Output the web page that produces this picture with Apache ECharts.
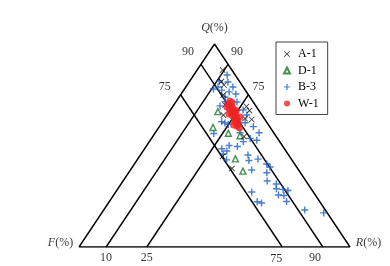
<!DOCTYPE html>
<html><head><meta charset="utf-8">
<script src="https://cdn.jsdelivr.net/npm/echarts@6/dist/echarts.min.js"></script>
<style>html,body{margin:0;padding:0;background:#fff}#c{width:390px;height:266px}</style>
</head><body><div id="c"></div>
<script>
// Ternary data in percent, each point = [Q, F, R]
const seriesNames = ['A-1', 'D-1', 'B-3', 'W-1'];
const dataA1 = [
  [87.2,3.4,9.4],[81.5,6.7,11.8],[79.8,6.6,13.6],[74.9,9.3,15.8],[70.0,11.1,18.9],
  [69.2,3.6,27.2],[67.2,3.5,29.3],[62.8,4.9,32.3],[63.3,7.1,29.6],[65.0,14.2,20.8],
  [54.4,11.9,33.7],[44.6,24.7,30.7],[38.7,24.2,37.1]
];
const dataD1 = [
  [66.7,15.4,17.9],[58.9,21.1,20.0],[56.0,16.9,27.1],[54.8,13.2,32.0],[43.4,20.6,36.0],[37.4,20.8,41.8]
];
const dataB3 = [
  [84.7,3.0,12.3],[81.8,7.3,10.9],[81.3,4.4,14.3],[78.8,3.8,17.4],[77.8,11.5,10.7],
  [77.3,8.7,14.0],[76.4,6.4,17.2],[75.4,4.4,20.2],[73.9,9.2,16.9],[71.4,6.0,22.6],
  [69.5,13.2,17.3],[67.5,5.7,26.8],[71.6,10.3,18.1],[65.0,5.6,29.4],[61.7,16.5,21.8],
  [61.1,15.6,23.3],[61.2,8.1,30.7],[59.3,6.0,34.7],[55.9,22.3,21.8],[56.3,12.4,31.3],
  [56.3,5.4,38.3],[53.5,10.1,36.4],[52.6,8.1,39.3],[51.9,13.4,34.7],[50.0,19.6,30.4],
  [49.5,16.8,33.7],[48.4,23.1,28.5],[47.3,21.8,30.9],[45.8,23.9,30.3],[45.3,15.0,39.7],
  [43.3,12.3,44.4],[42.6,16.0,41.4],[42.9,24.1,33.0],[40.9,10.3,48.8],[39.4,9.8,50.8],
  [37.9,17.3,44.8],[36.6,12.4,51.0],[32.5,14.3,53.2],[31.0,11.7,57.3],[28.7,12.8,58.5],
  [28.4,10.5,61.1],[27.8,9.0,63.2],[25.6,13.6,60.8],[25.4,11.7,62.9],[22.4,12.2,65.4],
  [27.1,22.7,50.2],[22.3,23.1,54.6],[21.7,21.8,56.5],[18.2,7.6,74.2],[16.8,1.3,81.9],
  [60.4,14.7,24.9],[78.8,9.3,11.9]
];
const dataW1 = [
  [71.9,8.4,19.7],[70.4,9.8,19.8],[69.5,9.1,21.4],[68.5,8.9,22.6],[68.0,10.5,21.5],
  [67.0,9.3,23.7],[66.0,10.7,23.3],[65.5,9.6,24.9],[64.5,11.0,24.5],[64.0,9.9,26.1],
  [63.1,11.0,25.9],[62.3,10.4,27.3],[61.6,11.5,26.9],[60.6,10.8,28.6],[59.6,11.9,28.5],
  [58.6,11.5,29.9],[67.2,8.3,24.5],[71.2,7.9,20.9],[69.0,10.9,20.1],[65.5,11.9,22.6],
  [64.0,8.6,27.4],[60.1,12.9,27.0]
];
// Triangle outline and classification lines, as [Q, F, R]
const outline = [[0,100,0],[0,0,100],[100,0,0],[0,100,0]];
const guideLines = [
  [[0,90,10],[90,0,10]],
  [[0,75,25],[75,0,25]],
  [[0,25,75],[75,25,0]],
  [[0,10,90],[90,10,0]]
];
const tickLabels = ['10', '25', '75', '90'];
const vertexLabels = ['Q', 'F', 'R'];

const toXY = p => [p[2] + p[0] / 2, p[0]];

const FONT = 'Liberation Serif';
const TXT = '#000';
const labelPts = [
  {t: tickLabels[0], p: [0,90,10], o: [0, 11]},
  {t: tickLabels[1], p: [0,75,25], o: [0, 11]},
  {t: tickLabels[2], p: [0,25,75], o: [-6, 11.5]},
  {t: tickLabels[3], p: [0,10,90], o: [-8, 11]},
  {t: tickLabels[3], p: [90,10,0], o: [-13, -12.5]},
  {t: tickLabels[3], p: [90,0,10], o: [9, -12.5]},
  {t: tickLabels[2], p: [75,25,0], o: [-16, -8]},
  {t: tickLabels[2], p: [75,0,25], o: [10, -8]},
  {t: '{i|' + vertexLabels[0] + '}(%)', p: [100,0,0], o: [0, -16]},
  {t: '{i|' + vertexLabels[1] + '}(%)', p: [0,100,0], o: [-18.5, -4]},
  {t: '{i|' + vertexLabels[2] + '}(%)', p: [0,0,100], o: [18.5, -4]}
];

const lineStyle = {color: '#000', width: 1.4};
const series = [];
series.push({type:'line', data: outline.map(toXY), symbol:'none', lineStyle, silent:true, z:1});
guideLines.forEach(l => series.push({type:'line', data: l.map(toXY), symbol:'none', lineStyle, silent:true, z:1}));

const plusPath = 'path://M4,0h2v4h4v2h-4v4h-2v-4h-4v-2h4z';
const crossPath = 'path://M1,0L5,4L9,0L10,1L6,5L10,9L9,10L5,6L1,10L0,9L4,5L0,1Z';

series.push({name: seriesNames[2], type:'scatter', data: dataB3.map(toXY), symbol: plusPath, symbolSize: 7,
  itemStyle: {color: '#1d5cc4'}, z: 3});
series.push({name: seriesNames[1], type:'scatter', data: dataD1.map(toXY), symbol: 'triangle', symbolSize: 6,
  itemStyle: {color: '#ffffff', borderColor: '#1b7432', borderWidth: 1.4}, z: 4});
series.push({name: seriesNames[0], type:'scatter', data: dataA1.map(toXY), symbol: crossPath, symbolSize: 6,
  itemStyle: {color: '#000'}, z: 5});
series.push({name: seriesNames[3], type:'scatter', data: dataW1.map(toXY), symbol: 'circle', symbolSize: 7,
  itemStyle: {color: '#ee2324'}, z: 6});

series.push({type:'scatter', silent:true, symbolSize: 0, z: 7,
  data: labelPts.map(d => ({value: toXY(d.p), label: {formatter: d.t, offset: d.o}})),
  label: {show: true, position: 'inside', color: TXT, fontFamily: FONT, fontSize: 12,
    rich: {i: {fontStyle: 'italic', fontFamily: FONT, fontSize: 12, color: TXT}}}
});

const chart = echarts.init(document.getElementById('c'));
chart.setOption({
  animation: false,
  backgroundColor: '#fff',
  grid: {left: 79, top: 44, width: 271, height: 203},
  xAxis: {type: 'value', min: 0, max: 100, show: false},
  yAxis: {type: 'value', min: 0, max: 100, show: false},
  legend: {
    data: seriesNames, orient: 'vertical', left: 276, top: 42,
    borderColor: '#444', borderWidth: 1, padding: [6, 9, 5, 7],
    itemWidth: 6, itemHeight: 6, itemGap: 4.5,
    textStyle: {fontFamily: FONT, fontSize: 12, color: TXT, padding: [0, 0, 0, 3]}
  },
  series
});
</script></body></html>
